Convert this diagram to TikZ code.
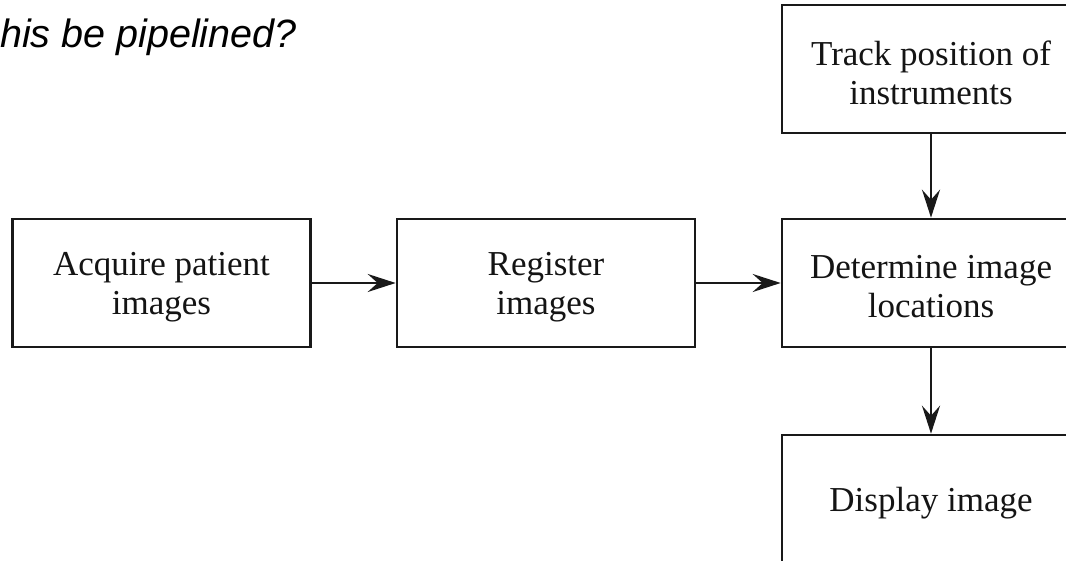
\documentclass[tikz,border=0pt]{standalone}
\usepackage{fontspec}
\setmainfont{Liberation Serif}
\newfontfamily\headfont{Liberation Sans}
\usetikzlibrary{arrows.meta}
\begin{document}
\begin{tikzpicture}[x=1pt,y=1pt,
  box/.style={draw=black!90, line width=2.6pt, minimum width=298pt, minimum height=128pt, inner sep=0pt},
  txt/.style={font=\fontsize{35}{39}\selectfont, align=center, text=black!92, yshift=-4pt},
  flow/.style={draw=black!90, line width=2.8pt, -{Stealth[length=28pt,width=18pt,inset=10pt]}}]
  \useasboundingbox (0,0) rectangle (1066,-561);
  \clip (0,0) rectangle (1066,-561);
  \fill[white] (0,0) rectangle (1066,-561);

  % heading at the top left
  \node[font=\headfont\itshape\fontsize{39.5}{44}\selectfont, anchor=base west, inner sep=0pt] (head)
    at (0,-48) {his be pipelined?};

  % process boxes
  \node[box, label={[txt, name=acq-t]center:Acquire patient\\images}] (acq) at (161.5,-283) {};
  \node[box, label={[txt, name=reg-t]center:Register\\images}] (reg) at (546,-283) {};
  \node[box, label={[txt, name=det-t]center:Determine image\\locations}] (det) at (931,-283) {};
  \node[box, label={[txt, name=trk-t]center:Track position of\\instruments}] (trk) at (931,-69) {};
  \node[box, label={[txt, name=dsp-t]center:Display image}] (dsp) at (931,-499) {};

  % connectors
  \draw[flow] (acq.east) -- (reg.west);
  \draw[flow] (reg.east) -- (det.west);
  \draw[flow] (trk.south) -- (det.north);
  \draw[flow] (det.south) -- (dsp.north);
\end{tikzpicture}
\end{document}
